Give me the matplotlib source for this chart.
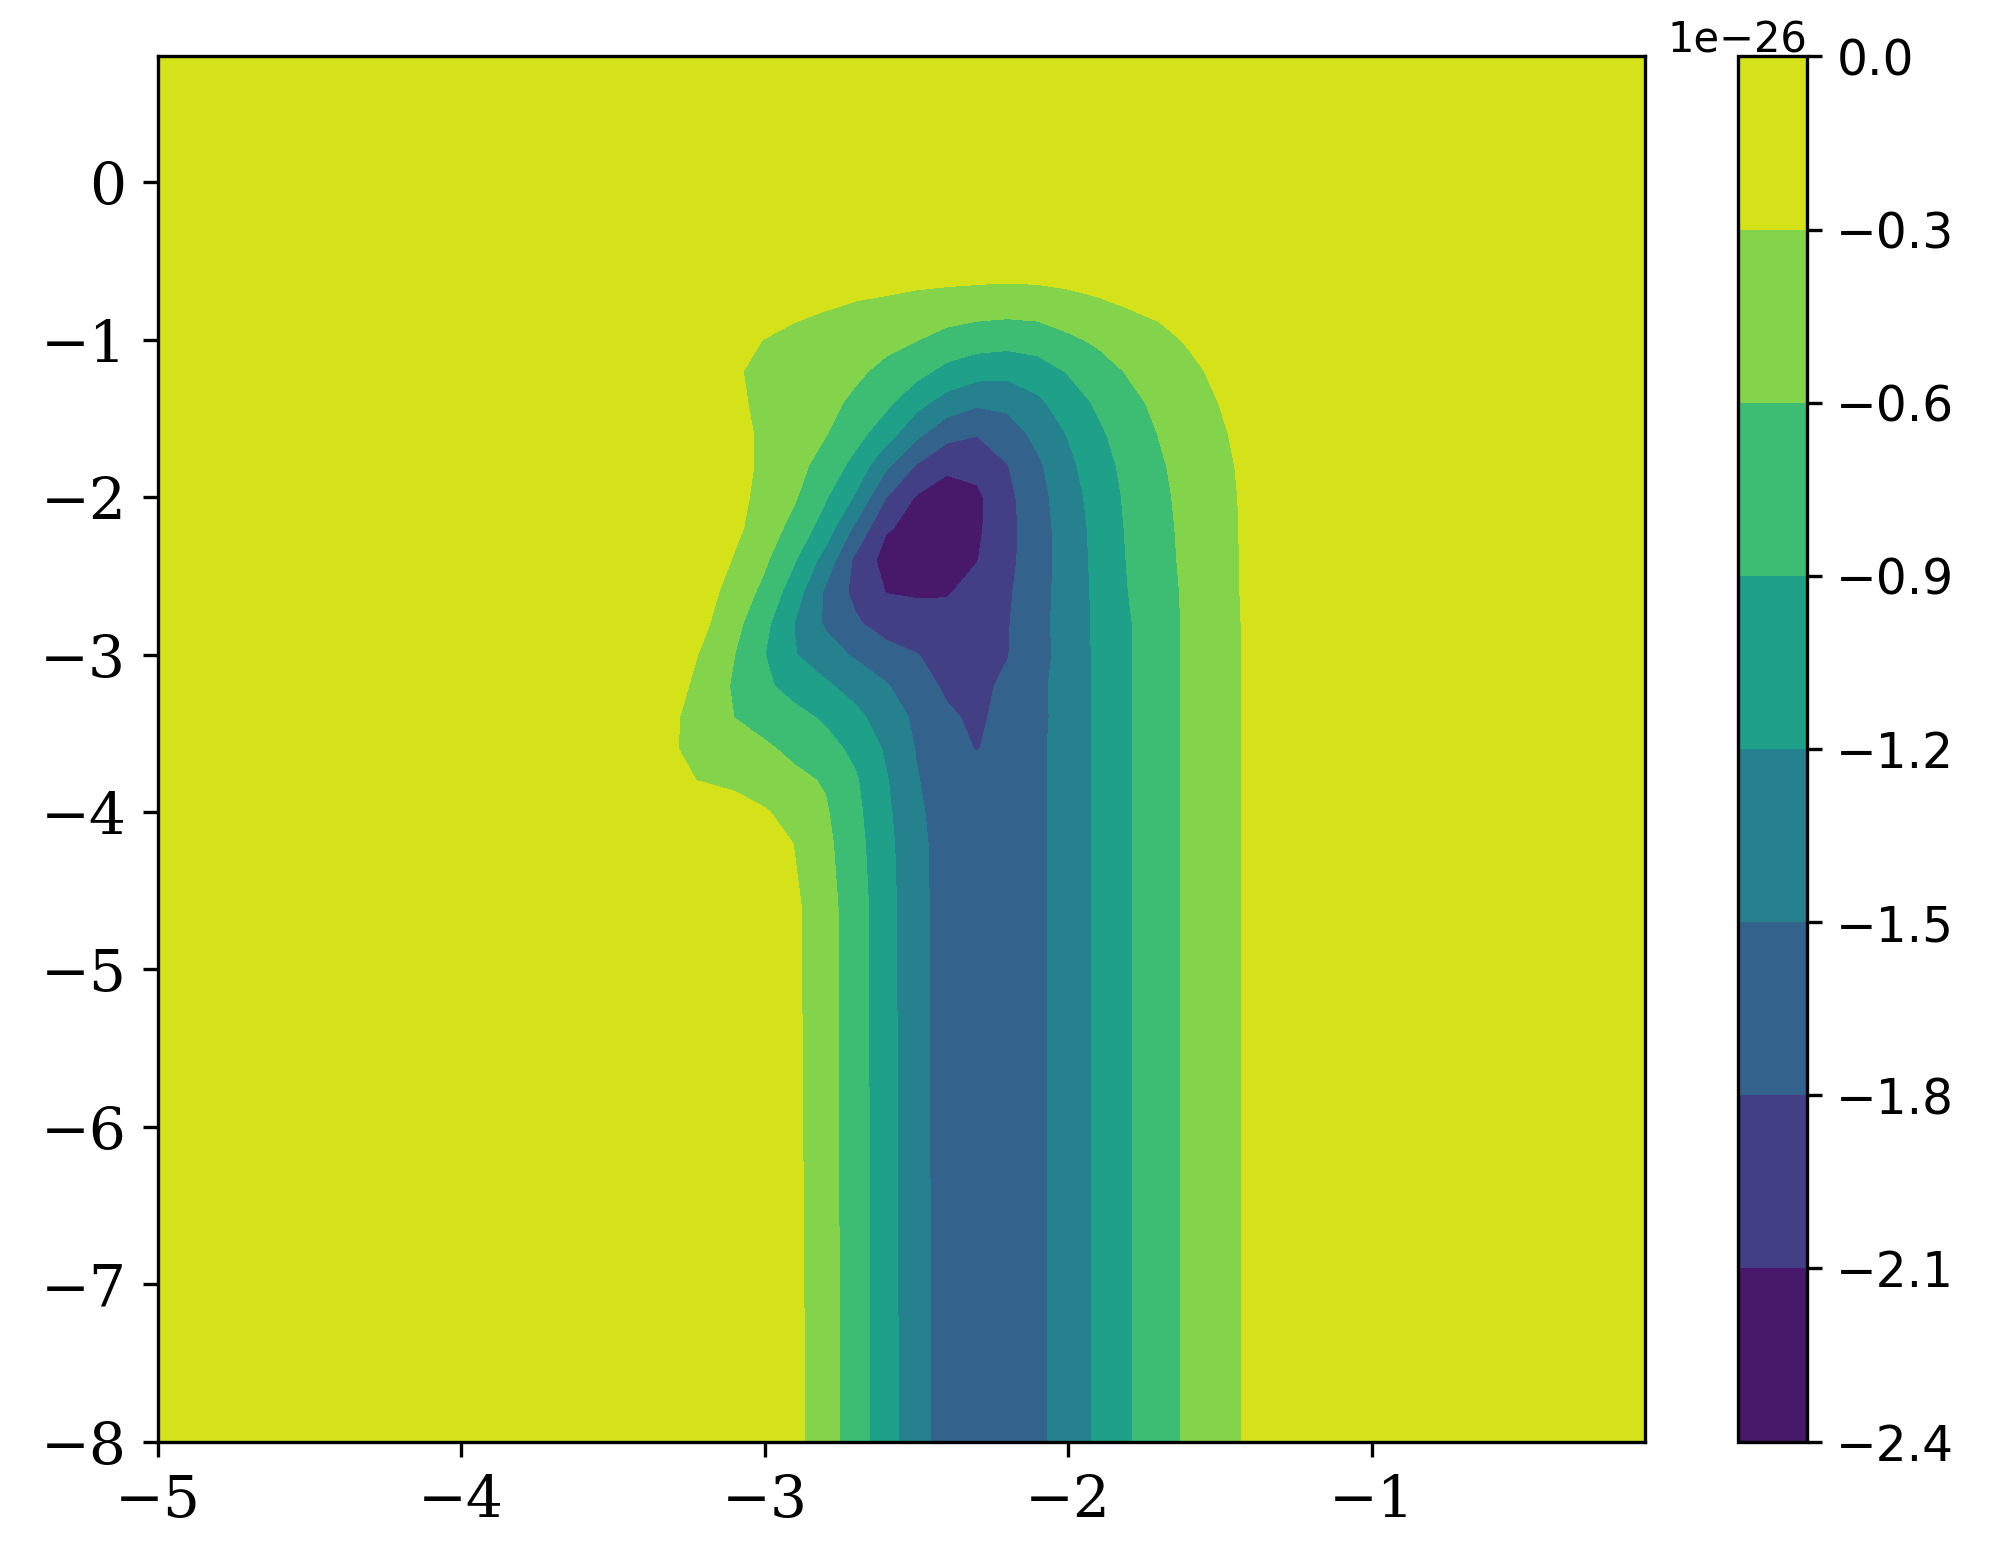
import numpy as np
import matplotlib
matplotlib.use("Agg")
import matplotlib.pyplot as plt

# grid positions
x_cols = [-5.0, -3.4, -3.3, -3.2, -3.1, -3.0, -2.9, -2.8, -2.7, -2.6, -2.5, -2.4,
          -2.3, -2.2, -2.1, -2.0, -1.9, -1.8, -1.7, -1.6, -1.5, -1.4, -1.3, -0.1]
y_rows = [-8.0, -4.6, -4.2, -4.0, -3.8, -3.6, -3.4, -3.2, -3.0, -2.8, -2.6,
          -2.4, -2.2, -2.0, -1.8, -1.6, -1.4, -1.2, -1.0, -0.8, -0.6, 0.8]

# field values in units of 1e-26, one row per y (bottom to top)
z_rows = [
    [-0.02, -0.02, -0.02, -0.02, -0.02, -0.02, -0.218, -0.467, -0.747, -1.072, -1.384, -1.63, -1.66, -1.65, -1.56, -1.366, -1.147, -0.926, -0.726, -0.548, -0.402, -0.256, -0.11, -0.02],
    [-0.02, -0.02, -0.02, -0.02, -0.02, -0.02, -0.251, -0.485, -0.759, -1.09, -1.402, -1.63, -1.66, -1.65, -1.56, -1.366, -1.147, -0.926, -0.726, -0.548, -0.402, -0.256, -0.11, -0.02],
    [-0.02, -0.02, -0.02, -0.02, -0.02, -0.099, -0.313, -0.527, -0.798, -1.113, -1.417, -1.63, -1.66, -1.65, -1.56, -1.366, -1.147, -0.926, -0.726, -0.548, -0.402, -0.256, -0.11, -0.02],
    [-0.02, -0.02, -0.02, -0.04, -0.124, -0.272, -0.42, -0.568, -0.829, -1.14, -1.448, -1.63, -1.66, -1.65, -1.56, -1.366, -1.147, -0.926, -0.726, -0.548, -0.402, -0.256, -0.11, -0.02],
    [-0.02, -0.174, -0.246, -0.318, -0.39, -0.463, -0.535, -0.625, -0.87, -1.175, -1.482, -1.64, -1.68, -1.66, -1.56, -1.366, -1.147, -0.926, -0.726, -0.548, -0.402, -0.256, -0.11, -0.02],
    [-0.02, -0.19, -0.285, -0.375, -0.465, -0.555, -0.666, -0.799, -0.965, -1.239, -1.514, -1.72, -1.81, -1.70, -1.56, -1.366, -1.147, -0.926, -0.726, -0.548, -0.402, -0.256, -0.11, -0.02],
    [-0.02, -0.10, -0.267, -0.433, -0.601, -0.708, -0.815, -0.939, -1.125, -1.338, -1.557, -1.748, -1.86, -1.688, -1.58, -1.366, -1.147, -0.926, -0.726, -0.548, -0.402, -0.256, -0.11, -0.02],
    [-0.02, -0.02, -0.188, -0.412, -0.634, -0.847, -1.009, -1.153, -1.312, -1.475, -1.662, -1.85, -1.86, -1.754, -1.571, -1.366, -1.147, -0.926, -0.726, -0.548, -0.402, -0.256, -0.11, -0.02],
    [-0.02, -0.02, -0.103, -0.349, -0.595, -0.894, -1.188, -1.373, -1.539, -1.67, -1.79, -1.90, -1.90, -1.81, -1.615, -1.366, -1.147, -0.926, -0.726, -0.548, -0.402, -0.256, -0.11, -0.02],
    [-0.02, -0.02, -0.02, -0.248, -0.509, -0.822, -1.209, -1.539, -1.757, -1.95, -1.99, -1.98, -1.95, -1.82, -1.595, -1.367, -1.144, -0.922, -0.725, -0.548, -0.402, -0.256, -0.11, -0.02],
    [-0.02, -0.02, -0.02, -0.185, -0.415, -0.675, -1.06, -1.544, -1.886, -2.11, -2.13, -2.13, -1.986, -1.841, -1.615, -1.369, -1.132, -0.896, -0.713, -0.544, -0.397, -0.25, -0.103, -0.02],
    [-0.02, -0.02, -0.02, -0.092, -0.323, -0.554, -0.882, -1.313, -1.868, -2.21, -2.25, -2.22, -2.11, -1.879, -1.623, -1.366, -1.12, -0.878, -0.695, -0.532, -0.391, -0.249, -0.108, -0.02],
    [-0.02, -0.02, -0.02, -0.02, -0.233, -0.45, -0.70, -1.044, -1.57, -2.075, -2.18, -2.24, -2.15, -1.893, -1.624, -1.361, -1.106, -0.862, -0.681, -0.524, -0.386, -0.248, -0.11, -0.02],
    [-0.02, -0.02, -0.02, -0.03, -0.209, -0.391, -0.574, -0.869, -1.235, -1.792, -2.123, -2.24, -2.16, -1.877, -1.603, -1.331, -1.072, -0.844, -0.662, -0.512, -0.379, -0.245, -0.112, -0.02],
    [-0.02, -0.02, -0.02, -0.04, -0.20, -0.354, -0.509, -0.71, -0.998, -1.445, -1.818, -2.04, -2.008, -1.81, -1.554, -1.274, -1.023, -0.812, -0.634, -0.494, -0.364, -0.233, -0.103, -0.02],
    [-0.02, -0.02, -0.03, -0.10, -0.222, -0.344, -0.466, -0.588, -0.80, -1.068, -1.428, -1.702, -1.788, -1.647, -1.42, -1.184, -0.95, -0.762, -0.591, -0.464, -0.336, -0.208, -0.08, -0.02],
    [-0.02, -0.03, -0.08, -0.168, -0.259, -0.35, -0.441, -0.533, -0.648, -0.835, -1.099, -1.325, -1.453, -1.427, -1.258, -1.05, -0.854, -0.679, -0.534, -0.414, -0.294, -0.174, -0.054, -0.02],
    [-0.02, -0.07, -0.14, -0.21, -0.279, -0.349, -0.419, -0.488, -0.558, -0.658, -0.804, -0.982, -1.084, -1.111, -1.032, -0.88, -0.721, -0.574, -0.464, -0.354, -0.244, -0.134, -0.05, -0.02],
    [-0.02, -0.08, -0.13, -0.19, -0.247, -0.304, -0.362, -0.419, -0.476, -0.534, -0.59, -0.696, -0.761, -0.791, -0.761, -0.65, -0.552, -0.459, -0.366, -0.273, -0.18, -0.09, -0.03, -0.02],
    [-0.02, -0.05, -0.07, -0.10, -0.15, -0.20, -0.25, -0.29, -0.324, -0.357, -0.409, -0.455, -0.488, -0.505, -0.488, -0.431, -0.364, -0.298, -0.25, -0.20, -0.15, -0.10, -0.06, -0.02],
    [-0.02, -0.04, -0.05, -0.07, -0.10, -0.13, -0.17, -0.20, -0.22, -0.215, -0.222, -0.229, -0.239, -0.249, -0.239, -0.216, -0.184, -0.17, -0.14, -0.11, -0.08, -0.06, -0.04, -0.02],
    [-0.02] * 24,
]

levels = [-2.4, -2.1, -1.8, -1.5, -1.2, -0.9, -0.6, -0.3, 0.0]
x_ticks = [-5, -4, -3, -2, -1]
y_ticks = [-8, -7, -6, -5, -4, -3, -2, -1, 0]
scale = 1e-26

fig = plt.figure(figsize=(20.07, 15.53), dpi=100)
ax = fig.add_axes([0.0785, 0.0717, 0.7410, 0.892])
cax = fig.add_axes([0.8660, 0.0717, 0.0344, 0.892])

Z = np.array(z_rows) * scale
cs = ax.contourf(x_cols, y_rows, Z, levels=np.array(levels) * scale, cmap="viridis")

ax.set_xticks(x_ticks)
ax.set_yticks(y_ticks)
ax.tick_params(labelsize=42, length=10.5, width=2.4, pad=12)
for lbl in ax.get_xticklabels() + ax.get_yticklabels():
    lbl.set_fontfamily("DejaVu Serif")
for sp in ax.spines.values():
    sp.set_linewidth(2.4)

cbar = fig.colorbar(cs, cax=cax)
cbar.set_ticks(np.array(levels) * scale)
cbar.outline.set_linewidth(2.4)
cax.tick_params(labelsize=35, length=10.5, width=2.4, pad=10.5)
cax.yaxis.get_offset_text().set_fontsize(30)

fig.savefig("out.png", dpi=100)
